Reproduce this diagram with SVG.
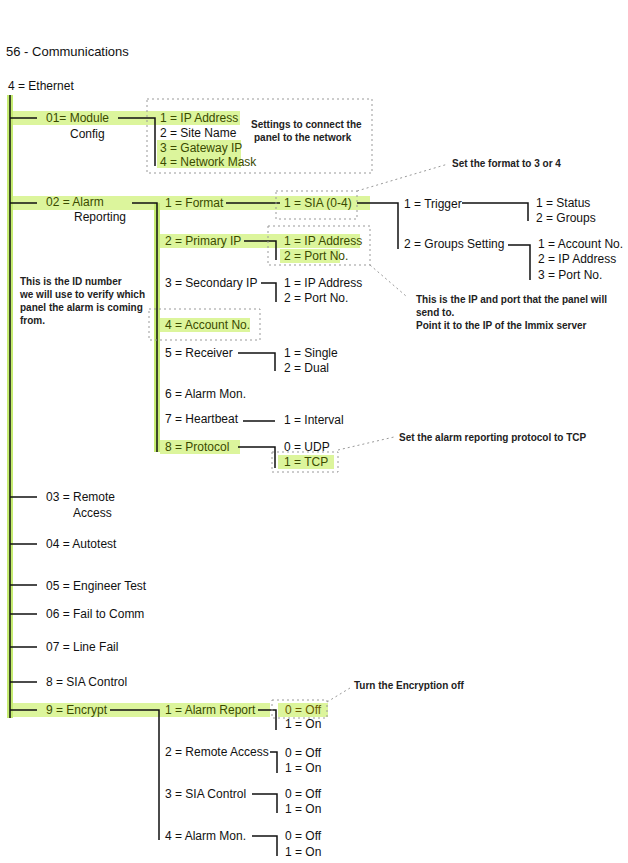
<svg xmlns="http://www.w3.org/2000/svg" width="628" height="863" viewBox="0 0 628 863">
<style>
text{font-family:"Liberation Sans",Arial,sans-serif;font-size:12px;fill:#111}
.h{fill:#3a4a00}
.n{font-size:10px;font-weight:bold;fill:#222}
.hl{fill:#dcf59c}
.ln{stroke:#111;stroke-width:1.5;fill:none}
.g{stroke:#c6ec72;stroke-width:6;fill:none}
.d{stroke:#999;stroke-width:1;stroke-dasharray:2 3;fill:none}
</style>
<rect width="628" height="863" fill="#fff"/>
<g id="highlights">
<rect class="hl" x="10" y="111" width="230" height="14"/>
<rect class="hl" x="157" y="140" width="84" height="28"/>
<rect class="hl" x="10" y="196" width="170" height="14"/>
<rect class="hl" x="160" y="196" width="210" height="14"/>
<rect class="hl" x="160" y="234" width="200" height="14"/>
<rect class="hl" x="280" y="249" width="60" height="14"/>
<rect class="hl" x="160" y="318" width="90" height="14"/>
<rect class="hl" x="160" y="440" width="80" height="14"/>
<rect class="hl" x="278" y="455" width="56" height="14"/>
<rect class="hl" x="10" y="703" width="260" height="14"/>
<rect class="hl" x="278" y="703" width="50" height="14" fill="#f1f09a"/>
<path class="g" d="M10 95V718M157 203V452"/>
</g>
<g id="connectors">
<path class="ln" d="M10 95V718M10 118H37M10 203H37M10 497H37M10 544H37M10 585H37M10 614H37M10 647H37M10 682H37M10 710H37"/>
<path class="ln" d="M118 118H155V166M132 203H157V452M226 203H280M357 203H398V249M462 203H528V221M508 245H530V280M244 241H276V260M261 283H276V302M238 353H275V371M243 421H275M238 447H275V468"/>
<path class="ln" d="M110 710H159V840M258 710H276V730M270 752H277V773M252 794H277V813M252 836H277V856"/>
<path class="d" d="M357 191L448 164M370 265L406 296M338 450L394 437M327 702L350 688"/>
</g>
<g id="boxes">
<rect class="d" x="147" y="99" width="225" height="74"/>
<rect class="d" x="276" y="191" width="81" height="28"/>
<rect class="d" x="268" y="226" width="102" height="39"/>
<rect class="d" x="149" y="309" width="111" height="31"/>
<rect class="d" x="272" y="452" width="66" height="20"/>
<rect class="d" x="272" y="700" width="55" height="18"/>
</g>
<g id="title"><text x="6" y="56" style="font-size:13px">56 - Communications</text><text x="8" y="90">4 = Ethernet</text></g>
<g id="n01"><text class="h" x="46" y="122">01= Module</text><text x="70" y="138">Config</text>
<text class="h" x="160" y="122">1 = IP Address</text><text x="160" y="137">2 = Site Name</text><text class="h" x="160" y="152">3 = Gateway IP</text><text class="h" x="160" y="166">4 = Network Mask</text>
<text class="n" x="251" y="128">Settings to connect the</text><text class="n" x="254" y="141">panel to the network</text></g>
<g id="n02"><text class="h" x="46" y="206">02 = Alarm</text><text x="74" y="221">Reporting</text>
<text class="h" x="165" y="207">1 = Format</text><text class="h" x="284" y="207">1 = SIA (0-4)</text>
<text x="404" y="208">1 = Trigger</text><text x="536" y="207">1 = Status</text><text x="536" y="222">2 = Groups</text>
<text x="404" y="248">2 = Groups Setting</text><text x="538" y="248">1 = Account No.</text><text x="538" y="263">2 = IP Address</text><text x="538" y="279">3 = Port No.</text>
<text class="h" x="165" y="245">2 = Primary IP</text><text class="h" x="284" y="245">1 = IP Address</text><text class="h" x="284" y="260">2 = Port No.</text>
<text x="165" y="287">3 = Secondary IP</text><text x="284" y="287">1 = IP Address</text><text x="284" y="302">2 = Port No.</text>
<text class="h" x="165" y="329">4 = Account No.</text>
<text x="165" y="357">5 = Receiver</text><text x="284" y="357">1 = Single</text><text x="284" y="372">2 = Dual</text>
<text x="165" y="398">6 = Alarm Mon.</text>
<text x="165" y="423">7 = Heartbeat</text><text x="284" y="424">1 = Interval</text>
<text class="h" x="165" y="451">8 = Protocol</text><text x="284" y="451">0 = UDP</text><text class="h" x="284" y="466">1 = TCP</text>
<text class="n" x="452" y="167">Set the format to 3 or 4</text>
<text class="n" x="416" y="303">This is the IP and port that the panel will</text><text class="n" x="416" y="316">send to.</text><text class="n" x="416" y="329">Point it to the IP of the Immix server</text>
<text class="n" x="399" y="441">Set the alarm reporting protocol to TCP</text>
<text class="n" x="20" y="285">This is the ID number</text><text class="n" x="20" y="298">we will use to verify which</text><text class="n" x="20" y="311">panel the alarm is coming</text><text class="n" x="20" y="324">from.</text></g>
<g id="n03"><text x="46" y="501">03 = Remote</text><text x="73" y="517">Access</text></g>
<g id="n04"><text x="46" y="548">04 = Autotest</text></g>
<g id="n05"><text x="46" y="590">05 = Engineer Test</text></g>
<g id="n06"><text x="46" y="618">06 = Fail to Comm</text></g>
<g id="n07"><text x="46" y="651">07 = Line Fail</text></g>
<g id="n8"><text x="46" y="686">8 = SIA Control</text></g>
<g id="n9"><text class="h" x="46" y="714">9 = Encrypt</text>
<text class="h" x="165" y="714">1 = Alarm Report</text><text x="285" y="714" style="fill:#6a5a00">0 = Off</text><text x="285" y="728">1 = On</text>
<text x="165" y="756">2 = Remote Access</text><text x="285" y="757">0 = Off</text><text x="285" y="772">1 = On</text>
<text x="165" y="798">3 = SIA Control</text><text x="285" y="798">0 = Off</text><text x="285" y="813">1 = On</text>
<text x="165" y="840">4 = Alarm Mon.</text><text x="285" y="840">0 = Off</text><text x="285" y="856">1 = On</text>
<text class="n" x="354" y="689">Turn the Encryption off</text></g>
</svg>
